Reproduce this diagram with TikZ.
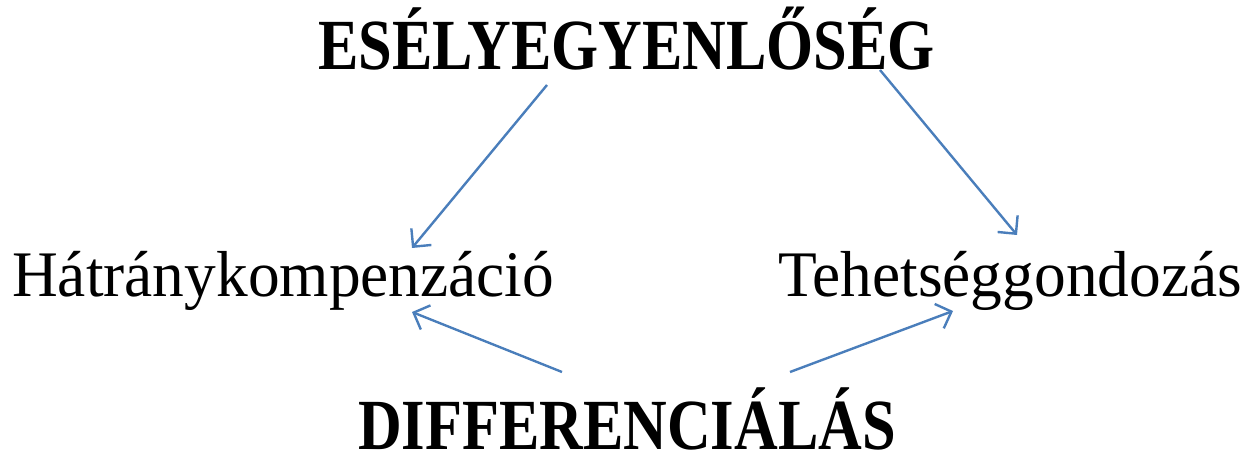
\documentclass[tikz,border=0pt]{standalone}
\usepackage{fontspec}
\setmainfont{Liberation Serif}
\newfontfamily\headfont[FakeStretch=0.84]{Liberation Serif}
\newfontfamily\bodyfont[FakeStretch=0.975]{Liberation Serif}
\usetikzlibrary{arrows.meta}
\definecolor{arrowblue}{RGB}{74,126,187}
\begin{document}
\begin{tikzpicture}[x=1pt,y=-1pt,
  head/.style={inner sep=0pt,anchor=base west,font=\headfont\bfseries\fontsize{72}{80}\selectfont},
  body/.style={inner sep=0pt,anchor=base west,font=\bodyfont\fontsize{65}{72}\selectfont},
  link/.style={draw=arrowblue,line width=2.4pt,-{Straight Barb[length=13pt,width=26pt,line width=2.4pt]}}]
\useasboundingbox (0,0) rectangle (1247,454);
\node[head] (esely) at (318,70) {ESÉLYEGYENLŐSÉG};
\node[body] (hatrany) at (12,296) {Hátránykompenzáció};
\node[body] (tehetseg) at (778,296) {Tehetséggondozás};
\node[head] (diff) at (358,449) {DIFFERENCIÁLÁS};
\coordinate (e1) at (547,85);
\coordinate (e2) at (880,70);
\coordinate (h1) at (412,248);
\coordinate (h2) at (412,312);
\coordinate (t1) at (1017,235);
\coordinate (t2) at (953,311);
\coordinate (d1) at (562,372);
\coordinate (d2) at (790,372);
\draw[link] (e1) -- (h1);
\draw[link] (e2) -- (t1);
\draw[link] (d1) -- (h2);
\draw[link] (d2) -- (t2);
\end{tikzpicture}
\end{document}
